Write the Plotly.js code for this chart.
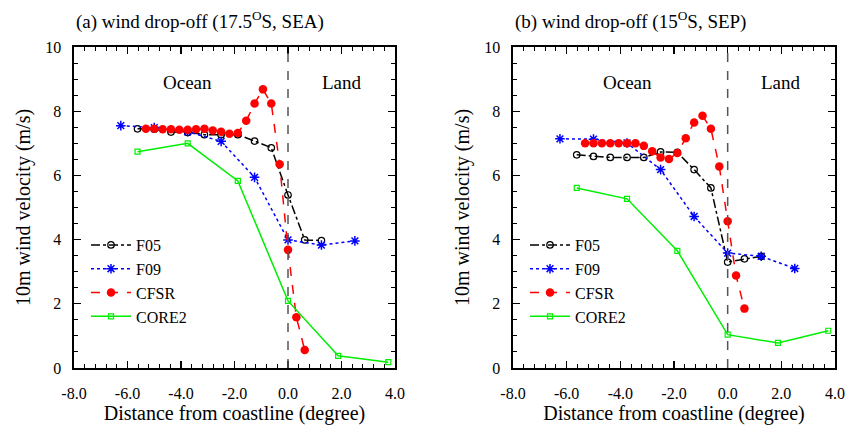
<!DOCTYPE html>
<html><head><meta charset="utf-8">
<script src="https://cdn.plot.ly/plotly-3.0.1.min.js"></script>
<style>html,body{margin:0;padding:0;background:#fff}</style>
</head><body><div id="chart" style="width:859px;height:429px"></div>
<script>
// ---- data: panel (a) 17.5S, SEA ----
const aF05x  = [-5.625,-5.0,-4.375,-3.75,-3.125,-2.5,-1.875,-1.25,-0.625,0.0,0.625,1.25];
const aF05y  = [7.45,7.44,7.35,7.34,7.27,7.27,7.27,7.07,6.86,5.39,3.99,3.97];
const aF09x  = [-6.25,-5.0,-3.75,-2.5,-1.25,0.0,1.25,2.5];
const aF09y  = [7.55,7.49,7.36,7.06,5.94,3.99,3.83,3.96];
const aCFSRx = [-5.3125,-5.0,-4.6875,-4.375,-4.0625,-3.75,-3.4375,-3.125,-2.8125,-2.5,-2.1875,-1.875,-1.5625,-1.25,-0.9375,-0.625,-0.3125,0.0,0.3125,0.625];
const aCFSRy = [7.45,7.45,7.44,7.44,7.42,7.42,7.44,7.45,7.40,7.36,7.30,7.32,7.70,8.24,8.68,8.24,6.35,3.68,1.58,0.56];
const aCOREx = [-5.625,-3.75,-1.875,0.0,1.875,3.75];
const aCOREy = [6.74,7.00,5.83,2.09,0.38,0.18];
// ---- data: panel (b) 15S, SEP ----
const bF05x  = [-5.625,-5.0,-4.375,-3.75,-3.125,-2.5,-1.875,-1.25,-0.625,0.0,0.625,1.25];
const bF05y  = [6.64,6.59,6.56,6.56,6.56,6.73,6.72,6.18,5.61,3.30,3.40,3.48];
const bF09x  = [-6.25,-5.0,-3.75,-2.5,-1.25,0.0,1.25,2.5];
const bF09y  = [7.14,7.13,7.01,6.18,4.72,3.58,3.48,3.10];
const bCFSRx = [-5.3125,-5.0,-4.6875,-4.375,-4.0625,-3.75,-3.4375,-3.125,-2.8125,-2.5,-2.1875,-1.875,-1.5625,-1.25,-0.9375,-0.625,-0.3125,0.0,0.3125,0.625];
const bCFSRy = [7.00,7.00,7.00,7.00,7.00,7.00,7.00,6.92,6.75,6.56,6.51,6.70,7.16,7.65,7.86,7.45,6.28,4.57,2.88,1.85];
const bCOREx = [-5.625,-3.75,-1.875,0.0,1.875,3.75];
const bCOREy = [5.61,5.27,3.65,1.04,0.78,1.16];
// ---- labels ----
const seriesNames = ["F05","F09","CFSR","CORE2"];
const xTickVals = [-8,-6,-4,-2,0,2,4];
const xTickText = ["-8.0","-6.0","-4.0","-2.0","0.0","2.0","4.0"];
const yTickVals = [0,2,4,6,8,10];
const yTickText = ["0","2","4","6","8","10"];
const titleA = "(a) wind drop-off (17.5<sup>O</sup>S, SEA)";
const titleB = "(b) wind drop-off (15<sup>O</sup>S, SEP)";
const xTitle = "Distance from coastline (degree)";
const yTitle = "10m wind velocity (m/s)";
const regionLabels = ["Ocean","Land"];
const regionX = [-3.75, 2.0];
const regionY = 8.9;
const coastline = 0;

const FONT = "'Liberation Serif', 'Times New Roman', serif";
const styles = [
  {color:"#000000", dash:"dashdot", symbol:"circle-open", size:6.5, mlw:1.2},
  {color:"#0000ff", dash:"dot", symbol:"asterisk-open", size:8, mlw:1.5},
  {color:"#ff0000", dash:"dash", symbol:"circle", size:8.5, mlw:0},
  {color:"#00ee00", dash:"solid", symbol:"square-open", size:5, mlw:1.2}
];
function mk(x, y, i, xa, ya, leg){
  const s = styles[i];
  return {x:x, y:y, xaxis:xa, yaxis:ya, type:"scatter", mode:"lines+markers",
    name:seriesNames[i], legend:leg, showlegend:true,
    line:{color:s.color, dash:s.dash, width:1.5},
    marker:{symbol:s.symbol, size:s.size, color:s.color, line:{color:s.color, width:s.mlw}}};
}
const data = [
  mk(aF05x,aF05y,0,"x","y","legend"), mk(aF09x,aF09y,1,"x","y","legend"),
  mk(aCFSRx,aCFSRy,2,"x","y","legend"), mk(aCOREx,aCOREy,3,"x","y","legend"),
  mk(bF05x,bF05y,0,"x2","y2","legend2"), mk(bF09x,bF09y,1,"x2","y2","legend2"),
  mk(bCFSRx,bCFSRy,2,"x2","y2","legend2"), mk(bCOREx,bCOREy,3,"x2","y2","legend2")
];
function xax(dom, anchor){
  return {domain:dom, anchor:anchor, range:[-8,4], tickmode:"array", tickvals:xTickVals, ticktext:xTickText,
    ticks:"inside", ticklen:7, tickwidth:1.3, tickcolor:"#000", showline:true, linecolor:"#000", linewidth:1.6,
    mirror:"ticks", showgrid:false, zeroline:false, tickfont:{family:FONT,size:16,color:"#000"},
    ticklabelstandoff:10,
    minor:{tickmode:"linear", tick0:-8, dtick:0.4, ticks:"inside", ticklen:4, tickwidth:1, tickcolor:"#000", showgrid:false},
    title:{text:xTitle, font:{family:FONT,size:20,color:"#000"}, standoff:5}};
}
function yax(anchor){
  return {domain:[0,1], anchor:anchor, range:[0,10], tickmode:"array", tickvals:yTickVals, ticktext:yTickText,
    ticks:"inside", ticklen:7, tickwidth:1.3, tickcolor:"#000", showline:true, linecolor:"#000", linewidth:1.6,
    mirror:"ticks", showgrid:false, zeroline:false, tickfont:{family:FONT,size:16,color:"#000"},
    ticklabelstandoff:8,
    minor:{tickmode:"linear", tick0:0, dtick:0.5, ticks:"inside", ticklen:4, tickwidth:1, tickcolor:"#000", showgrid:false},
    title:{text:yTitle, font:{family:FONT,size:20,color:"#000"}, standoff:9}};
}
const W = 859, ml = 74, mr = 24;
const pw = W - ml - mr;
const domA = [0, 321/pw];
const domB = [(513-ml)/pw, 1];
const annotations = [];
[["x","y"],["x2","y2"]].forEach(function(ax){
  regionLabels.forEach(function(t,i){
    annotations.push({text:t, x:regionX[i], y:regionY, xref:ax[0], yref:ax[1], showarrow:false,
      font:{family:FONT,size:19,color:"#000"}});
  });
});
annotations.push({text:titleA, x:domA[0], y:1+(47-21)/321, xref:"paper", yref:"paper", xanchor:"left", yanchor:"middle", showarrow:false, font:{family:FONT,size:19,color:"#000"}});
annotations.push({text:titleB, x:domB[0], y:1+(47-21)/321, xref:"paper", yref:"paper", xanchor:"left", yanchor:"middle", showarrow:false, font:{family:FONT,size:19,color:"#000"}});
const shapes = [
  {type:"line", xref:"x", yref:"y", x0:coastline, x1:coastline, y0:0, y1:10, line:{color:"#555", dash:"dash", width:1.5}},
  {type:"line", xref:"x2", yref:"y2", x0:coastline, x1:coastline, y0:0, y1:10, line:{color:"#555", dash:"dash", width:1.5}}
];
const legStyle = {font:{family:FONT,size:16,color:"#000"}, bgcolor:"rgba(0,0,0,0)", borderwidth:0,
  xanchor:"left", yanchor:"top", tracegroupgap:0, itemwidth:40};
const legY = (368-228)/321;
const layout = {
  width:W, height:429, margin:{l:ml, r:mr, t:47, b:61},
  paper_bgcolor:"#fff", plot_bgcolor:"#fff", font:{family:FONT, color:"#000"},
  xaxis:xax(domA,"y"), yaxis:yax("x"), xaxis2:xax(domB,"y2"), yaxis2:yax("x2"),
  legend:Object.assign({x:(86-ml)/pw, y:legY}, legStyle),
  legend2:Object.assign({x:(86+439-ml)/pw, y:legY}, legStyle),
  annotations:annotations, shapes:shapes
};
Plotly.newPlot("chart", data, layout, {displayModeBar:false, staticPlot:true});
</script></body></html>
